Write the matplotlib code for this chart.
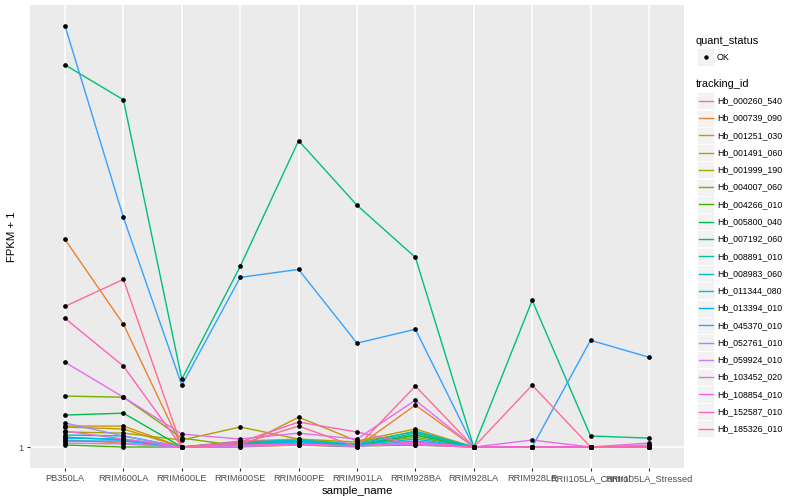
import matplotlib
matplotlib.use("Agg")
import matplotlib.pyplot as plt
from matplotlib.patches import Rectangle
from matplotlib.lines import Line2D

plt.rcParams['font.family'] = ['Liberation Sans', 'DejaVu Sans']

# Datos
samples = ['PB350LA', 'RRIM600LA', 'RRIM600LE', 'RRIM600SE', 'RRIM600PE',
           'RRIM901LA', 'RRIM928BA', 'RRIM928LA', 'RRIM928LE',
           'RRII105LA_Control', 'RRII105LA_Stressed']

tracking_ids = ['Hb_000260_540', 'Hb_000739_090', 'Hb_001251_030', 'Hb_001491_060',
                'Hb_001999_190', 'Hb_004007_060', 'Hb_004266_010', 'Hb_005800_040',
                'Hb_007192_060', 'Hb_008891_010', 'Hb_008983_060', 'Hb_011344_080',
                'Hb_013394_010', 'Hb_045370_010', 'Hb_052761_010', 'Hb_059924_010',
                'Hb_103452_020', 'Hb_108854_010', 'Hb_152587_010', 'Hb_185326_010']

# FPKM + 1 por gen (mismo orden que tracking_ids), una columna por muestra
fpkm_plus1 = [
    [1.035, 1.020, 1.000, 1.030, 1.040, 1.010, 1.015, 1.000, 1.000, 1.000, 1.000],
    [2.787, 1.834, 1.000, 1.000, 1.010, 1.000, 1.230, 1.000, 1.000, 1.000, 1.000],
    [1.109, 1.109, 1.000, 1.015, 1.020, 1.005, 1.061, 1.000, 1.000, 1.000, 1.000],
    [1.104, 1.093, 1.000, 1.000, 1.159, 1.030, 1.093, 1.000, 1.000, 1.000, 1.000],
    [1.077, 1.071, 1.035, 1.104, 1.040, 1.025, 1.077, 1.000, 1.000, 1.000, 1.000],
    [1.286, 1.279, 1.045, 1.005, 1.030, 1.010, 1.050, 1.000, 1.000, 1.000, 1.000],
    [1.010, 1.000, 1.000, 1.010, 1.010, 1.005, 1.010, 1.000, 1.000, 1.000, 1.000],
    [1.171, 1.182, 1.000, 1.020, 1.025, 1.010, 1.061, 1.000, 1.000, 1.000, 1.000],
    [6.600, 5.555, 1.398, 2.440, 4.540, 3.300, 2.551, 1.000, 2.063, 1.056, 1.045],
    [1.050, 1.035, 1.000, 1.025, 1.030, 1.010, 1.071, 1.000, 1.000, 1.000, 1.000],
    [1.061, 1.056, 1.000, 1.025, 1.035, 1.015, 1.082, 1.000, 1.000, 1.000, 1.000],
    [1.045, 1.040, 1.000, 1.015, 1.025, 1.010, 1.040, 1.000, 1.000, 1.000, 1.000],
    [1.030, 1.030, 1.000, 1.010, 1.015, 1.005, 1.030, 1.000, 1.000, 1.000, 1.000],
    [8.000, 3.107, 1.357, 2.311, 2.404, 1.670, 1.789, 1.000, 1.000, 1.694, 1.558],
    [1.126, 1.056, 1.000, 1.005, 1.010, 1.005, 1.020, 1.000, 1.000, 1.000, 1.000],
    [1.020, 1.015, 1.000, 1.005, 1.010, 1.005, 1.015, 1.000, 1.000, 1.000, 1.010],
    [1.520, 1.279, 1.066, 1.040, 1.071, 1.040, 1.260, 1.000, 1.035, 1.000, 1.020],
    [1.082, 1.040, 1.000, 1.010, 1.015, 1.005, 1.025, 1.000, 1.000, 1.000, 1.000],
    [1.888, 1.491, 1.000, 1.025, 1.131, 1.077, 1.010, 1.000, 1.000, 1.000, 1.000],
    [2.003, 2.288, 1.000, 1.015, 1.109, 1.000, 1.351, 1.000, 1.357, 1.000, 1.000],
]

# Paleta hue de ggplot (20 colores)
colores = ['#F8766D', '#EA8331', '#D89000', '#C09B00', '#A3A500', '#7CAE00',
           '#39B600', '#00BB4E', '#00BF7D', '#00C1A3', '#00BFC4', '#00BAE0',
           '#00B0F6', '#35A2FF', '#9590FF', '#C77CFF', '#E76BF3', '#FA62DB',
           '#FF62BC', '#FF6C91']

W, H = 800, 500
fig = plt.figure(figsize=(8, 5), dpi=100)
ax = fig.add_axes([30 / W, 32 / H, 654 / W, 463 / H])
ax.set_facecolor('#EBEBEB')

x = list(range(len(samples)))
for vals, col in zip(fpkm_plus1, colores):
    ax.plot(x, vals, color=col, lw=1.0, zorder=2)
for vals in fpkm_plus1:
    ax.plot(x, vals, 'o', color='black', ms=3.4, mew=0, zorder=3)

ax.set_yscale('log')
ax.set_ylim(10 ** -0.045, 10 ** 0.948)
ax.set_xlim(-0.6, len(samples) - 1 + 0.6)
ax.set_yticks([1])
ax.set_yticklabels(['1'])
ax.yaxis.set_minor_locator(matplotlib.ticker.NullLocator())
ax.set_xticks(x)
ax.set_xticklabels(samples)

ax.grid(True, which='major', color='white', lw=1.1, zorder=0)
ax.set_axisbelow(True)
for s in ax.spines.values():
    s.set_visible(False)
ax.tick_params(axis='both', length=2.5, width=0.8, color='#333333',
               labelsize=6.7, labelcolor='#4D4D4D', pad=2)

ax.set_xlabel('sample_name', fontsize=8.2, color='black', labelpad=2)
ax.set_ylabel('FPKM + 1', fontsize=8.2, color='black', labelpad=1)

# Leyenda manual al estilo ggplot
def fx(px):
    return px / W

def fy(py):
    return 1 - py / H

fig.text(fx(696), fy(41), 'quant_status', fontsize=7.9, va='center', ha='left')
fig.add_artist(Rectangle((fx(697), fy(65.5)), 17 / W, 17 / H,
                         transform=fig.transFigure, facecolor='#F2F2F2',
                         edgecolor='white', lw=0.5))
fig.add_artist(Line2D([fx(705.5)], [fy(57)], marker='o', color='black', ms=3.2,
                      mew=0, transform=fig.transFigure))
fig.text(fx(717), fy(57), 'OK', fontsize=6.5, va='center', ha='left')

fig.text(fx(696), fy(84), 'tracking_id', fontsize=7.9, va='center', ha='left')
for i, (tid, col) in enumerate(zip(tracking_ids, colores)):
    cy = 100.8 + 17.27 * i
    fig.add_artist(Rectangle((fx(697), fy(cy + 8.5)), 17 / W, 17 / H,
                             transform=fig.transFigure, facecolor='#F2F2F2',
                             edgecolor='white', lw=0.5))
    fig.add_artist(Line2D([fx(698.5), fx(712.5)], [fy(cy), fy(cy)], color=col,
                          lw=1.0, transform=fig.transFigure))
    fig.text(fx(717), fy(cy), tid, fontsize=6.3, va='center', ha='left')

fig.savefig('out.png', dpi=100)
